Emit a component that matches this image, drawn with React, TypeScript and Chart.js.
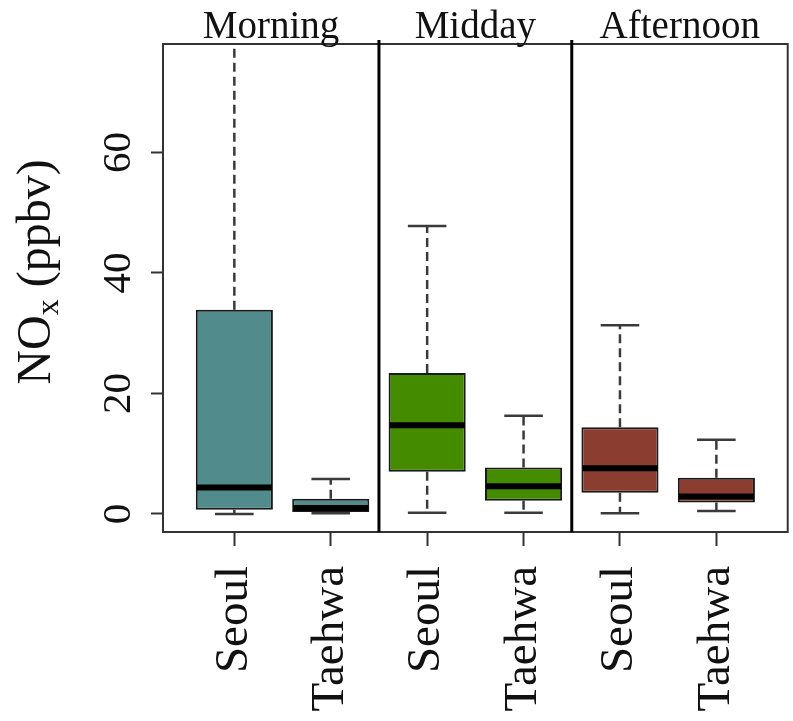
import React, { useEffect, useRef } from 'react';
import { Chart, registerables } from 'chart.js';

Chart.register(...registerables);

// ---- data ----
const groups = ['Morning', 'Midday', 'Afternoon'];
const sites = ['Seoul', 'Taehwa', 'Seoul', 'Taehwa', 'Seoul', 'Taehwa'];
const whiskerLow = [0.0, 0.1, 0.2, 0.2, 0.1, 0.5];
const q1 = [0.7, 0.3, 7.0, 2.2, 3.5, 1.9];
const median = [4.4, 1.0, 14.7, 4.6, 7.6, 2.9];
const q3 = [33.9, 2.5, 23.4, 7.7, 14.4, 6.0];
const whiskerHigh = [82.0, 5.8, 47.8, 16.3, 31.3, 12.3]; // first one runs past the top of the axis
const yTicks = [0, 20, 40, 60];
const groupColors = ['#528B8B', '#458B00', '#8B3E2F'];
const yTitle = { main: 'NO', sub: 'x', rest: ' (ppbv)' };

const SERIF = '"Liberation Serif", "Times New Roman", serif';
const INK = '#111111';

const positions = sites.map((_, i) => i + 1);
const panelBounds = [2.5, 4.5];

const boxPlugin = {
  id: 'boxExtras',
  beforeDatasetsDraw(chart: any) {
    const { ctx, chartArea: ca } = chart;
    const xs = chart.scales.x;
    const ys = chart.scales.y;
    const meta = chart.getDatasetMeta(0);
    ctx.save();
    ctx.beginPath();
    ctx.rect(ca.left, ca.top, ca.right - ca.left, ca.bottom - ca.top);
    ctx.clip();
    meta.data.forEach((el: any, i: number) => {
      const x = xs.getPixelForValue(positions[i]);
      const hw = el.width / 4;
      ctx.strokeStyle = '#3a3a3a';
      ctx.lineWidth = 2.5;
      ctx.setLineDash([9, 5]);
      ctx.beginPath();
      ctx.moveTo(x, ys.getPixelForValue(q3[i]));
      ctx.lineTo(x, ys.getPixelForValue(whiskerHigh[i]));
      ctx.moveTo(x, ys.getPixelForValue(q1[i]));
      ctx.lineTo(x, ys.getPixelForValue(whiskerLow[i]));
      ctx.stroke();
      ctx.setLineDash([]);
      ctx.beginPath();
      const yh = ys.getPixelForValue(whiskerHigh[i]);
      const yl = ys.getPixelForValue(whiskerLow[i]);
      ctx.moveTo(x - hw, yh);
      ctx.lineTo(x + hw, yh);
      ctx.moveTo(x - hw, yl);
      ctx.lineTo(x + hw, yl);
      ctx.stroke();
    });
    ctx.restore();
  },
  afterDatasetsDraw(chart: any) {
    const { ctx } = chart;
    const ys = chart.scales.y;
    const meta = chart.getDatasetMeta(0);
    ctx.save();
    meta.data.forEach((el: any, i: number) => {
      const y = ys.getPixelForValue(median[i]);
      ctx.strokeStyle = '#000';
      ctx.lineWidth = 6;
      ctx.lineCap = 'butt';
      ctx.beginPath();
      ctx.moveTo(el.x - el.width / 2 + 1, y);
      ctx.lineTo(el.x + el.width / 2 - 1, y);
      ctx.stroke();
    });
    ctx.restore();
  },
  afterDraw(chart: any) {
    const { ctx, chartArea: ca } = chart;
    const xs = chart.scales.x;
    const ys = chart.scales.y;
    ctx.save();
    // plot frame
    ctx.strokeStyle = '#333';
    ctx.lineWidth = 2;
    ctx.strokeRect(ca.left, ca.top, ca.right - ca.left, ca.bottom - ca.top);
    // panel separators
    ctx.strokeStyle = '#000';
    ctx.lineWidth = 3;
    panelBounds.forEach((b) => {
      const x = xs.getPixelForValue(b);
      ctx.beginPath();
      ctx.moveTo(x, ca.top - 4);
      ctx.lineTo(x, ca.bottom);
      ctx.stroke();
    });
    // panel titles
    const edges = [ca.left, ...panelBounds.map((b) => xs.getPixelForValue(b)), ca.right];
    ctx.fillStyle = INK;
    ctx.font = `39px ${SERIF}`;
    ctx.textAlign = 'center';
    ctx.textBaseline = 'alphabetic';
    groups.forEach((g, i) => {
      ctx.fillText(g, (edges[i] + edges[i + 1]) / 2, ca.top - 6);
    });
    // y tick labels (rotated)
    ctx.font = `41px ${SERIF}`;
    yTicks.forEach((v) => {
      const y = ys.getPixelForValue(v);
      ctx.save();
      ctx.translate(ca.left - 33, y);
      ctx.rotate(-Math.PI / 2);
      ctx.textAlign = 'center';
      ctx.textBaseline = 'alphabetic';
      ctx.fillText(String(v), 0, 0);
      ctx.restore();
    });
    // y axis title
    const bigF = `48px ${SERIF}`;
    const subF = `32px ${SERIF}`;
    ctx.font = bigF;
    const wMain = ctx.measureText(yTitle.main).width;
    const wRest = ctx.measureText(yTitle.rest).width;
    ctx.font = subF;
    const wSub = ctx.measureText(yTitle.sub).width;
    const total = wMain + wSub + wRest;
    const cy = (ca.top + ca.bottom) / 2 - 16;
    ctx.save();
    ctx.translate(50, cy);
    ctx.rotate(-Math.PI / 2);
    ctx.textAlign = 'left';
    ctx.textBaseline = 'alphabetic';
    let x0 = -total / 2;
    ctx.font = bigF;
    ctx.fillText(yTitle.main, x0, 0);
    x0 += wMain;
    ctx.font = subF;
    ctx.fillText(yTitle.sub, x0, 8);
    x0 += wSub;
    ctx.font = bigF;
    ctx.fillText(yTitle.rest, x0, 0);
    ctx.restore();
    ctx.restore();
  },
};

export default function App() {
  const ref = useRef<HTMLCanvasElement>(null);
  useEffect(() => {
    const chart = new Chart(ref.current as HTMLCanvasElement, {
      type: 'bar',
      data: {
        datasets: [
          {
            data: positions.map((p, i) => ({ x: p, y: [q1[i], q3[i]] })) as any,
            backgroundColor: positions.map((_, i) => groupColors[Math.floor(i / 2)]),
            borderColor: '#1a1a1a',
            borderWidth: 2,
            borderSkipped: false,
            categoryPercentage: 1,
            barPercentage: 0.8,
          } as any,
        ],
      },
      options: {
        animation: false,
        responsive: false,
        layout: { padding: { top: 44, right: 2, left: 0, bottom: 0 } },
        plugins: { legend: { display: false }, tooltip: { enabled: false } },
        scales: {
          x: {
            type: 'linear',
            min: 0.26,
            max: 6.74,
            offset: false,
            afterBuildTicks: (s: any) => {
              s.ticks = positions.map((v) => ({ value: v }));
            },
            afterFit: (s: any) => {
              s.height = 189;
            },
            grid: { offset: false, drawOnChartArea: false, drawTicks: true, tickLength: 14, tickWidth: 2, tickColor: '#333' },
            border: { display: false },
            ticks: {
              font: { family: SERIF, size: 47 },
              color: INK,
              minRotation: 90,
              maxRotation: 90,
              padding: 20,
              autoSkip: false,
              callback: (_v: any, idx: number) => sites[idx],
            },
          },
          y: {
            type: 'linear',
            min: -3.0,
            max: 78.0,
            afterBuildTicks: (s: any) => {
              s.ticks = yTicks.map((v) => ({ value: v }));
            },
            afterFit: (s: any) => {
              s.width = 163;
            },
            grid: { offset: false, drawOnChartArea: false, drawTicks: true, tickLength: 12, tickWidth: 2, tickColor: '#333' },
            border: { display: false },
            ticks: { display: false },
          },
        },
      } as any,
      plugins: [boxPlugin],
    });
    return () => chart.destroy();
  }, []);

  return (
    <div style={{ position: 'absolute', left: 0, top: 0, width: 793, height: 721, background: '#fff' }}>
      <canvas ref={ref} width={793} height={721} style={{ display: 'block', width: 793, height: 721 }} />
    </div>
  );
}
